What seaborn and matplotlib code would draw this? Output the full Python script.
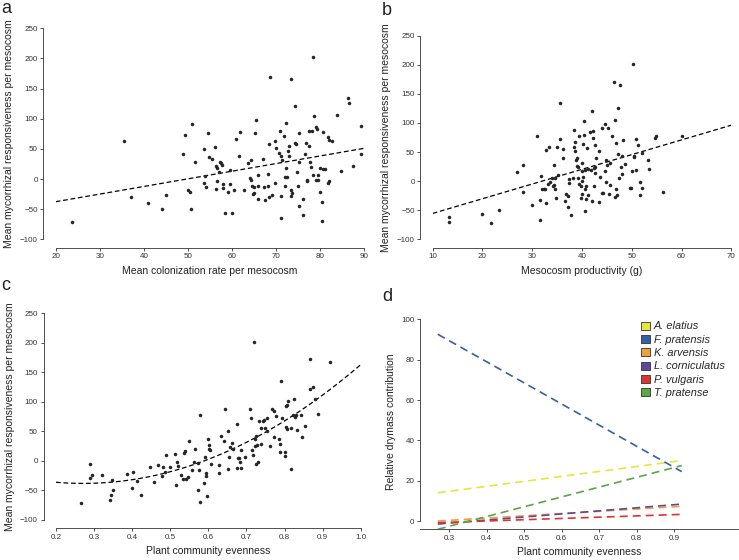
"""Mycorrhizal responsiveness vs. colonization, productivity and evenness (4 panels)."""

import matplotlib
matplotlib.use("Agg")
import matplotlib.pyplot as plt
from matplotlib.patches import Patch
import pandas as pd
import seaborn as sns

sns.set_theme(style="ticks")
plt.rcParams["font.family"] = ["Liberation Sans", "DejaVu Sans"]

# ---- panel a: colonization rate vs responsiveness ----
colon_x = [
    23.8, 35.5, 37.1, 41.0, 44.0, 45.0, 48.9, 49.3, 50.1, 50.4, 50.6, 51.0, 51.5,
    53.7, 53.9, 53.7, 54.0, 54.5, 54.8, 55.5, 56.2, 56.4, 56.7, 57.3, 57.5, 57.8,
    57.0, 56.7, 56.3, 57.9, 57.9, 59.0, 59.5, 59.5, 58.5, 60.1, 60.5, 60.9, 61.5,
    61.9, 62.6, 63.7, 64.2, 64.1, 64.2, 64.6, 65.0, 65.5, 65.3, 65.0, 64.7, 65.8,
    65.8, 66.0, 67.0, 67.2, 67.5, 68.2, 68.4, 68.7, 68.1, 68.4, 69.0, 69.8, 69.8,
    70.0, 70.9, 71.1, 70.6, 71.3, 71.2, 71.1, 71.8, 72.0, 72.2, 72.1, 72.3, 72.5,
    72.7, 72.9, 72.9, 73.3, 73.4, 73.4, 73.7, 74.3, 74.3, 74.6, 74.8, 75.0, 75.1,
    75.3, 75.2, 76.2, 76.2, 76.5, 76.8, 76.9, 77.1, 77.4, 77.5, 77.7, 78.0, 78.1,
    78.4, 78.4, 78.7, 79.0, 79.3, 79.0, 79.4, 79.6, 80.0, 80.3, 80.3, 79.9, 80.7,
    80.6, 81.1, 81.8, 82.1, 81.8, 82.1, 82.6, 83.9, 84.8, 86.4, 86.6, 87.5, 89.2,
    89.2,
]
colon_y = [
    -71, 63, -30, -40, -50, -27, 41, 73, -19, -22, -50, 92, 28,
    50, 5, -6, -13, 77, 37, 34, 53, 22, 19, 29, 26, 23,
    11, -4, -16, -8, -15, -22, 15, -8, -56, -57, -18, 67, 38,
    78, -19, 27, 32, 1, -2, -12, -13, 98, 76, -24, -25, -11,
    6, -33, 33, -13, -35, 8, 58, 170, -11, -30, -26, -6, 63,
    52, 80, 39, 43, 32, -28, -65, 72, -11, 93, 3, 18, 4,
    47, 39, 54, 166, -19, -28, -23, 121, 59, 58, 11, -11, -44,
    76, 28, -33, -60, 41, 59, -3, -1, 55, 79, 29, 20, 79,
    202, 7, 105, 87, 83, -2, 7, -1, -22, -38, -69, 19, 78,
    17, 17, 69, 65, -7, -4, 63, 106, 14, 135, 126, 22, 88,
    41,
]

# ---- panel b: productivity vs responsiveness ----
prod_x = [
    13.3, 13.3, 19.9, 21.7, 23.3, 27.0, 28.2, 28.2, 29.9, 30.9, 31.5, 31.7, 31.5,
    31.9, 32.3, 32.6, 32.8, 32.8, 33.4, 33.2, 33.5, 33.9, 34.2, 34.3, 34.4, 34.6,
    34.6, 34.8, 35.0, 35.6, 35.6, 35.2, 36.2, 36.1, 36.5, 36.7, 37.1, 37.2, 37.3,
    37.4, 37.8, 38.2, 38.4, 38.5, 38.4, 38.6, 38.7, 38.9, 39.0, 39.2, 39.2, 39.3,
    39.4, 39.7, 39.7, 40.0, 40.0, 40.0, 40.2, 40.4, 40.4, 40.3, 41.1, 42.1, 41.6,
    42.3, 42.3, 42.7, 42.9, 43.4, 42.5, 42.6, 42.7, 41.8, 40.7, 41.2, 40.0, 40.9,
    40.7, 41.3, 42.1, 40.9, 40.7, 42.5, 43.5, 43.7, 44.0, 44.3, 44.1, 44.7, 44.7,
    44.9, 45.1, 45.3, 44.9, 45.6, 45.7, 45.5, 46.1, 46.4, 46.6, 46.8, 46.8, 47.1,
    46.7, 47.3, 47.3, 47.4, 47.7, 48.0, 47.8, 48.2, 48.1, 48.6, 49.6, 49.9, 50.1,
    50.2, 50.4, 50.5, 50.8, 50.9, 51.3, 51.6, 51.6, 52.0, 52.1, 53.2, 53.5, 54.6,
    54.9, 56.3, 60.0,
]
prod_y = [
    -61, -71, -57, -72, -50, 15, 27, -18, -41, 78, -66, 8, -32,
    -14, -13, -13, 53, -38, 58, -5, -1, 5, -8, 28, -6, 5,
    -14, -29, 58, 134, 72, 10, 55, 40, -34, -22, -45, -26, 3,
    -4, -58, 5, 88, 68, 58, 52, 37, 40, 26, 25, 5, -5,
    77, -9, -29, 1, 17, -22, 7, 104, 79, 63, 57, 120, 84,
    87, 75, 62, 40, 52, 22, 24, 14, 19, 19, 20, 32, -9,
    -13, -24, -34, -31, -51, -9, -36, 7, -21, -21, 91, 98, 18,
    -2, 28, 92, 37, 32, -6, -22, 78, 170, 105, 66, -13, -24,
    -27, 125, 46, 6, 166, 43, 24, 70, 12, 29, -11, -12, 17,
    201, 44, 41, 19, 72, 62, -2, -24, 49, -12, 37, 21, 75,
    77, -18, 77,
]

# ---- panel c: evenness vs responsiveness ----
even_x = [
    0.266, 0.288, 0.290, 0.295, 0.320, 0.341, 0.344, 0.349, 0.348, 0.386, 0.400,
    0.403, 0.412, 0.423, 0.447, 0.458, 0.468, 0.478, 0.481, 0.488, 0.487, 0.498,
    0.513, 0.516, 0.518, 0.520, 0.529, 0.535, 0.540, 0.534, 0.541, 0.547, 0.550,
    0.557, 0.563, 0.564, 0.572, 0.579, 0.574, 0.578, 0.576, 0.589, 0.590, 0.593,
    0.597, 0.600, 0.601, 0.602, 0.604, 0.593, 0.607, 0.628, 0.628, 0.634, 0.640,
    0.644, 0.651, 0.652, 0.654, 0.658, 0.661, 0.665, 0.675, 0.676, 0.677, 0.681,
    0.684, 0.686, 0.686, 0.695, 0.709, 0.712, 0.715, 0.716, 0.720, 0.723, 0.725,
    0.723, 0.728, 0.726, 0.731, 0.732, 0.738, 0.738, 0.743, 0.745, 0.749, 0.753,
    0.755, 0.763, 0.766, 0.773, 0.773, 0.777, 0.786, 0.789, 0.787, 0.791, 0.794,
    0.800, 0.801, 0.804, 0.805, 0.807, 0.809, 0.807, 0.817, 0.817, 0.822, 0.824,
    0.827, 0.831, 0.834, 0.842, 0.845, 0.854, 0.866, 0.868, 0.874, 0.879, 0.889,
    0.920,
]
even_y = [
    -72, -6, -29, -24, -23, -66, -57, -50, -33, -22, -45,
    -19, -34, -58, -11, -36, -7, -26, -11, 10, -18, -11,
    11, -41, -1, -9, -24, 14, 17, -31, -31, -28, 34,
    -16, -2, 21, -3, 77, -50, -70, -15, -38, 6, -26,
    -60, 37, 20, 27, 19, -21, -5, -7, -20, 42, 33,
    88, 50, -14, 6, 23, 31, 20, -12, 63, 5, 5,
    -1, -12, 19, 6, 88, 72, 18, 10, 202, 38, -5,
    26, 27, 42, -1, 67, 55, 28, 67, 69, 55, 72,
    50, 26, 88, 84, 41, 76, 38, 29, 15, 135, 73,
    15, 9, 58, 93, 95, 101, 54, -14, 56, 77, 105,
    75, 77, 52, 77, 41, 59, 122, 172, 126, 105, 80,
    167,
]

# ---- panel d: fitted species contributions at the ends of the evenness range ----
species = ["A. elatius", "F. pratensis", "K. arvensis",
           "L. corniculatus", "P. vulgaris", "T. pratense"]
species_colors = ["#e8e63a", "#3560a8", "#f0a038", "#5b4a9c", "#e0332f", "#58a845"]
fit_even = [0.27, 0.92]
contrib_start = [14.0, 92.6, 0.0, -1.5, -0.8, -4.1]
contrib_end = [30.0, 24.5, 7.3, 8.4, 3.3, 27.5]

YLABEL = "Mean mycorrhizal responsiveness per mesocosm"
POINT = "#262626"
TICK_FS = 5.8
LABEL_FS = 7.5


def style_axes(ax, xlim, ylim, xticks, yticks, xlabel, ylabel, xfmt=None):
    ax.set_xlim(xlim)
    ax.set_ylim(ylim)
    ax.set_xticks(xticks)
    ax.set_yticks(yticks)
    if xfmt:
        ax.set_xticklabels([xfmt.format(t) for t in xticks])
    ax.tick_params(axis="both", labelsize=TICK_FS, length=2.2, width=0.6,
                   pad=1.8, colors="#333333")
    for side in ["left", "bottom"]:
        ax.spines[side].set_linewidth(0.6)
        ax.spines[side].set_color("#333333")
    ax.set_xlabel(xlabel, fontsize=LABEL_FS, color="#222222", labelpad=4)
    ax.set_ylabel(ylabel, fontsize=LABEL_FS, color="#222222", labelpad=4)
    ax.grid(False)


def scatter_panel(ax, x, y, order=1):
    df = pd.DataFrame({"x": x, "y": y})
    sns.scatterplot(data=df, x="x", y="y", ax=ax, s=6.5, color=POINT,
                    linewidth=0, legend=False, zorder=3)
    sns.regplot(data=df, x="x", y="y", ax=ax, scatter=False, ci=None,
                order=order, truncate=False,
                line_kws=dict(color="black", lw=0.9, dashes=(3.8, 2.2)))


fig = plt.figure(figsize=(7.39, 5.6), dpi=100)
W, H = 739, 560


def px_axes(left, top, right, bottom):
    return fig.add_axes([left / W, 1 - bottom / H, (right - left) / W, (bottom - top) / H])


ax_a = px_axes(55.7, 28.3, 364.3, 239.3)
ax_b = px_axes(432.7, 35.7, 731.3, 239.3)
ax_c = px_axes(56.0, 313.3, 360.7, 520.0)
ax_d = px_axes(420.0, 315.3, 738.0, 529.1)

yt = [-100, -50, 0, 50, 100, 150, 200, 250]

# a
ax_a.set_xlim(20, 90)
ax_a.set_ylim(-100, 250)
scatter_panel(ax_a, colon_x, colon_y)
style_axes(ax_a, (20, 90), (-100, 250), list(range(20, 91, 10)), yt,
           "Mean colonization rate per mesocosm", YLABEL)

# b
ax_b.set_xlim(10, 70)
ax_b.set_ylim(-100, 250)
scatter_panel(ax_b, prod_x, prod_y)
style_axes(ax_b, (10, 70), (-100, 250), list(range(10, 71, 10)), yt,
           "Mesocosm productivity (g)", YLABEL)

# c
ax_c.set_xlim(0.2, 1.0)
ax_c.set_ylim(-100, 250)
scatter_panel(ax_c, even_x, even_y, order=2)
style_axes(ax_c, (0.2, 1.0), (-100, 250), [0.2 + 0.1 * i for i in range(9)], yt,
           "Plant community evenness", YLABEL, xfmt="{:.1f}")

for ax in (ax_a, ax_b, ax_c):
    sns.despine(ax=ax, offset=dict(left=9, bottom=6))

# d
rows = []
for sp, y0, y1 in zip(species, contrib_start, contrib_end):
    rows.append({"species": sp, "evenness": fit_even[0], "contribution": y0})
    rows.append({"species": sp, "evenness": fit_even[1], "contribution": y1})
df_d = pd.DataFrame(rows)
palette = dict(zip(species, species_colors))
sns.lineplot(data=df_d, x="evenness", y="contribution", hue="species",
             style="species", dashes={sp: (4.8, 3.0) for sp in species},
             palette=palette, lw=1.2, ax=ax_d, legend=False)
style_axes(ax_d, (0.2226, 1.07), (-4, 102), [0.3 + 0.1 * i for i in range(7)],
           [0, 20, 40, 60, 80, 100], "Plant community evenness",
           "Relative drymass contribution", xfmt="{:.1f}")
sns.despine(ax=ax_d)
ax_d.spines["left"].set_bounds(0, 100)

handles = [Patch(facecolor=c, edgecolor="#333333", lw=0.6) for c in species_colors]
ax_d.legend(handles, species, loc="upper left", bbox_to_anchor=(636 / W, 1 - 316 / H),
            bbox_transform=fig.transFigure, frameon=False, handlelength=0.75,
            handleheight=0.75, handletextpad=0.35, labelspacing=0.3, borderpad=0,
            prop=dict(style="italic", size=7.9))

# panel letters
for letter, x, y in [("a", 1, 13), ("b", 382, 15), ("c", 1, 290), ("d", 382, 301)]:
    fig.text(x / W, 1 - y / H, letter, fontsize=13, va="baseline", ha="left",
             color="#222222")

fig.savefig("out.png", dpi=100)
